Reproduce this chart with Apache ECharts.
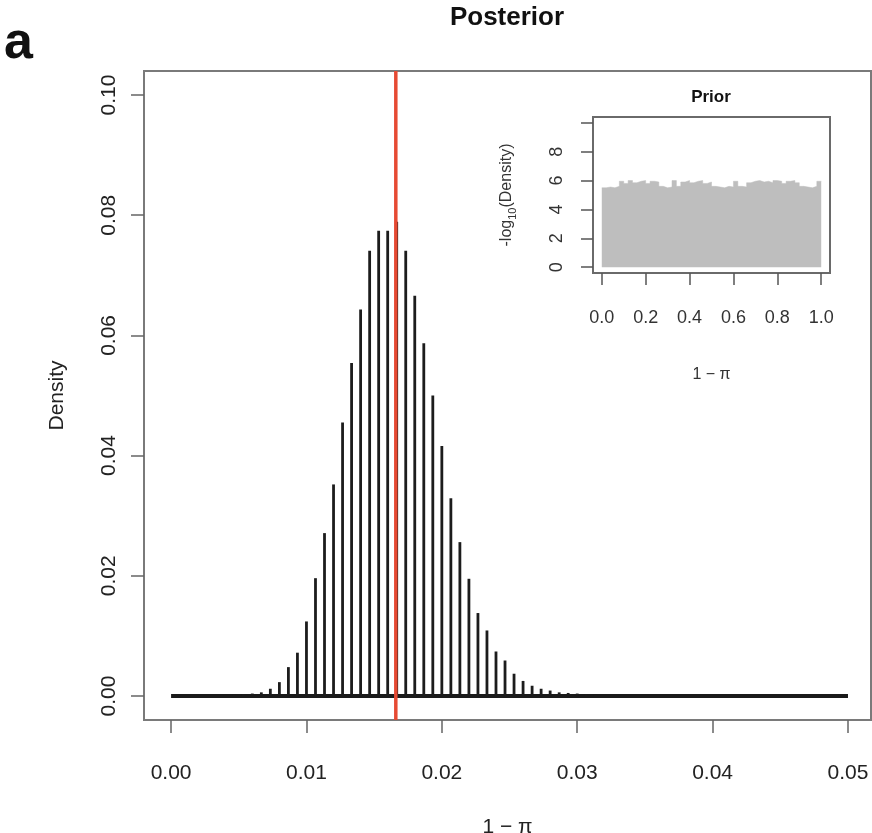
<!DOCTYPE html>
<html><head><meta charset="utf-8">
<script src="https://cdn.jsdelivr.net/npm/echarts@6/dist/echarts.min.js"></script>
<style>html,body{margin:0;padding:0;background:#fff}#c{width:872px;height:833px}</style>
</head><body><div id="c"></div>
<script>
// Posterior: support points of 1 - pi (spacing 1/1500) and their densities
const postX = [0.004,0.004667,0.005333,0.006,0.006667,0.007333,0.008,0.008667,0.009333,0.01,
  0.010667,0.011333,0.012,0.012667,0.013333,0.014,0.014667,0.015333,0.016,0.016667,
  0.017333,0.018,0.018667,0.019333,0.02,0.020667,0.021333,0.022,0.022667,0.023333,
  0.024,0.024667,0.025333,0.026,0.026667,0.027333,0.028,0.028667,0.029333,0.03,0.030667,0.031333];
const postY = [0.0001,0.0002,0.0003,0.0004,0.0006,0.0012,0.0023,0.0048,0.0072,0.0124,
  0.0196,0.0271,0.0352,0.0455,0.0554,0.0643,0.0741,0.0774,0.0774,0.0789,
  0.0741,0.0666,0.0587,0.0500,0.0416,0.0329,0.0256,0.0195,0.0138,0.0109,
  0.0074,0.0059,0.0037,0.0025,0.0017,0.0012,0.0009,0.0006,0.0005,0.0004,0.0003,0.0002];
const baselineX = [0, 0.05];
const redLineX = 0.0166;
const mainXTicks = [0, 0.01, 0.02, 0.03, 0.04, 0.05];
const mainYTicks = [0, 0.02, 0.04, 0.06, 0.08, 0.10];

// Prior inset histogram: bin starts and -log10(Density) heights
const priorBinStart = [0.00,0.02,0.04,0.06,0.08,0.10,0.12,0.14,0.16,0.18,
  0.20,0.22,0.24,0.26,0.28,0.30,0.32,0.34,0.36,0.38,
  0.40,0.42,0.44,0.46,0.48,0.50,0.52,0.54,0.56,0.58,
  0.60,0.62,0.64,0.66,0.68,0.70,0.72,0.74,0.76,0.78,
  0.80,0.82,0.84,0.86,0.88,0.90,0.92,0.94,0.96,0.98];
const priorBinEnd = 1.0;
const priorH = [5.5,5.55,5.5,5.6,5.95,5.8,6.0,5.85,5.95,6.0,
  5.8,5.95,5.9,5.6,5.5,5.55,6.0,5.6,5.9,6.0,
  5.85,5.95,6.0,5.8,5.9,5.6,5.55,5.5,5.6,5.55,
  5.95,5.6,5.55,5.85,5.95,6.0,5.9,5.95,5.85,6.0,
  5.95,5.8,5.95,6.0,5.85,5.6,5.55,5.5,5.6,5.95];
const insetXTicks = [0, 0.2, 0.4, 0.6, 0.8, 1.0];
const insetYTicks = [0, 2, 4, 6, 8, 10];
const insetYLabels = [0, 2, 4, 6, 8];

const FONT = 'Liberation Sans';
const chart = echarts.init(document.getElementById('c'), null, {renderer: 'canvas'});

const postData = postX.map((x, i) => [x, postY[i]]);
const priorData = priorBinStart.map((x, i) => [x, priorH[i]]);
priorData.push([priorBinEnd, priorH[priorH.length - 1]]);

const option = {
  animation: false,
  backgroundColor: '#fff',
  graphic: [
    {type: 'text', left: 4, top: 18, style: {text: 'a', font: 'bold 52px ' + FONT, fill: '#111'}},
    {type: 'text', x: 507, y: 18, style: {text: 'Posterior', font: 'bold 26px ' + FONT, fill: '#111', align: 'center', verticalAlign: 'middle'}},
    {type: 'text', x: 711, y: 97, z: 100, style: {text: 'Prior', font: 'bold 17px ' + FONT, fill: '#111', align: 'center', verticalAlign: 'middle'}}
  ],
  grid: [
    {left: 144, top: 71, width: 727, height: 649, show: true, borderColor: '#7a7a7a', borderWidth: 2,
     containLabel: false, outerBoundsMode: 'none'},
    {left: 593, top: 117, width: 237, height: 156, show: true, borderColor: '#6a6a6a', borderWidth: 2,
     backgroundColor: '#fff', z: 10, containLabel: false, outerBoundsMode: 'none'}
  ],
  xAxis: [
    {type: 'value', gridIndex: 0, min: -0.002, max: 0.0517,
     axisLine: {show: false, onZero: false}, splitLine: {show: false},
     axisTick: {show: true, length: 13, lineStyle: {color: '#666', width: 1.5}, customValues: mainXTicks},
     axisLabel: {customValues: mainXTicks, margin: 43, fontSize: 21, fontFamily: FONT, color: '#222',
       formatter: v => v.toFixed(2)},
     name: '1 − π', nameLocation: 'middle', nameGap: 97,
     nameTextStyle: {fontSize: 21, fontFamily: FONT, color: '#222'}},
    {type: 'value', gridIndex: 1, min: -0.04, max: 1.04, z: 11,
     axisLine: {show: false, onZero: false}, splitLine: {show: false},
     axisTick: {show: true, length: 12, lineStyle: {color: '#555', width: 1.5}, customValues: insetXTicks},
     axisLabel: {customValues: insetXTicks, margin: 36, fontSize: 18, fontFamily: FONT, color: '#333',
       formatter: v => v.toFixed(1)},
     name: '1 − π', nameLocation: 'middle', nameGap: 94,
     nameTextStyle: {fontSize: 16, fontFamily: FONT, color: '#333'}}
  ],
  yAxis: [
    {type: 'value', gridIndex: 0, min: -0.004, max: 0.104,
     axisLine: {show: false, onZero: false}, splitLine: {show: false},
     axisTick: {show: true, length: 13, lineStyle: {color: '#666', width: 1.5}, customValues: mainYTicks},
     axisLabel: {customValues: mainYTicks, margin: 24, rotate: 90, fontSize: 21, fontFamily: FONT, color: '#222',
       formatter: v => v.toFixed(2)},
     name: 'Density', nameLocation: 'middle', nameGap: 76, nameRotate: 90,
     nameTextStyle: {fontSize: 21, fontFamily: FONT, color: '#222'}},
    {type: 'value', gridIndex: 1, min: -0.4, max: 10.4, z: 11,
     axisLine: {show: false, onZero: false}, splitLine: {show: false},
     axisTick: {show: true, length: 12, lineStyle: {color: '#555', width: 1.5}, customValues: insetYTicks},
     axisLabel: {customValues: insetYLabels, margin: 27, rotate: 90, fontSize: 18, fontFamily: FONT, color: '#333',
       formatter: v => String(v)},
     name: '{a|-log}{s|10}{a|(Density)}', nameLocation: 'middle', nameGap: 75, nameRotate: 90,
     nameTextStyle: {fontSize: 16, fontFamily: FONT, color: '#333',
       rich: {a: {fontSize: 16, fontFamily: FONT, color: '#333', lineHeight: 22, verticalAlign: 'middle'},
              s: {fontSize: 11, fontFamily: FONT, color: '#333', lineHeight: 22, verticalAlign: 'bottom', padding: [8, 0, 0, 0]}}}}
  ],
  series: [
    {type: 'line', xAxisIndex: 0, yAxisIndex: 0, data: baselineX.map(x => [x, 0]),
     symbol: 'none', lineStyle: {color: '#1a1a1a', width: 4}, z: 2},
    {type: 'bar', xAxisIndex: 0, yAxisIndex: 0, data: postData, barWidth: 2.8,
     itemStyle: {color: '#1c1c1c'}, z: 3},
    {type: 'line', xAxisIndex: 0, yAxisIndex: 0, data: [[redLineX, -0.004], [redLineX, 0.104]],
     symbol: 'none', lineStyle: {color: '#e64a33', width: 3.5}, z: 4},
    {type: 'line', xAxisIndex: 1, yAxisIndex: 1, data: priorData, step: 'end',
     symbol: 'none', lineStyle: {color: '#bebebe', width: 0.5},
     areaStyle: {color: '#bebebe', opacity: 1}, z: 12}
  ]
};
chart.setOption(option);
</script>
</body></html>
